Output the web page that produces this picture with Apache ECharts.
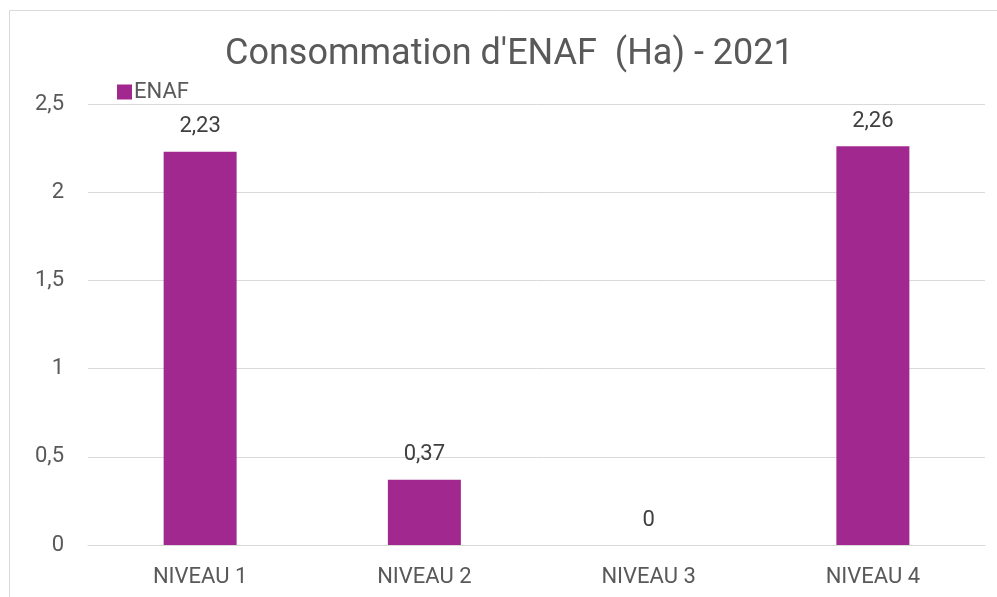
<!DOCTYPE html>
<html lang="fr">
<head>
  <meta charset="UTF-8">
  <title>Consommation d'ENAF</title>
  <style>
    html, body { margin: 0; padding: 0; background: #fff; }
    #chart { width: 997px; height: 597px; }
  </style>
</head>
<body>
  <script src="https://cdn.jsdelivr.net/npm/echarts@6/dist/echarts.min.js"></script>
  <div id="chart"></div>
  <script>
    let chart = echarts.init(document.getElementById('chart'))

    // données
    var categories = ['NIVEAU 1', 'NIVEAU 2', 'NIVEAU 3', 'NIVEAU 4']
    var enaf = [2.23, 0.37, 0, 2.26]

    var fr = function (v) { return String(v).replace('.', ',') }

    var option = {
      backgroundColor: '#fff',
      textStyle: { fontFamily: 'Roboto, "Liberation Sans", sans-serif' },
      graphic: [{
        type: 'rect',
        shape: { x: 9.5, y: 10.5, width: 1000, height: 600 },
        style: { fill: 'none', stroke: '#d9d9d9', lineWidth: 1 },
        silent: true
      }],
      title: {
        text: "Consommation d'ENAF  (Ha) - 2021",
        left: 220,
        top: 32,
        textStyle: { fontSize: 36, fontWeight: 'normal', color: '#595959' }
      },
      legend: {
        data: ['ENAF'],
        left: 112,
        top: 76,
        icon: 'rect',
        itemWidth: 15,
        itemHeight: 15,
        itemGap: 5,
        textStyle: { fontSize: 22, color: '#595959', padding: [0, 0, 0, -3] }
      },
      grid: { left: 88, right: 12, top: 104, bottom: 52, containLabel: false },
      xAxis: {
        type: 'category',
        data: categories,
        axisLine: { lineStyle: { color: '#d9d9d9' } },
        axisTick: { show: false },
        axisLabel: { fontSize: 22, color: '#595959', margin: 21 }
      },
      yAxis: {
        type: 'value',
        min: 0,
        max: 2.5,
        interval: 0.5,
        axisLine: { show: false },
        axisTick: { show: false },
        splitLine: { lineStyle: { color: '#d9d9d9' } },
        axisLabel: { fontSize: 22, color: '#595959', margin: 24, formatter: fr }
      },
      series: [{
        name: 'ENAF',
        type: 'bar',
        data: enaf,
        barWidth: 73,
        itemStyle: { color: '#a0288f' },
        label: {
          show: true,
          position: 'top',
          distance: 14,
          fontSize: 22,
          color: '#404040',
          formatter: function (p) { return fr(p.value) }
        }
      }]
    }
    chart.setOption(option)
  </script>
</body>
</html>
